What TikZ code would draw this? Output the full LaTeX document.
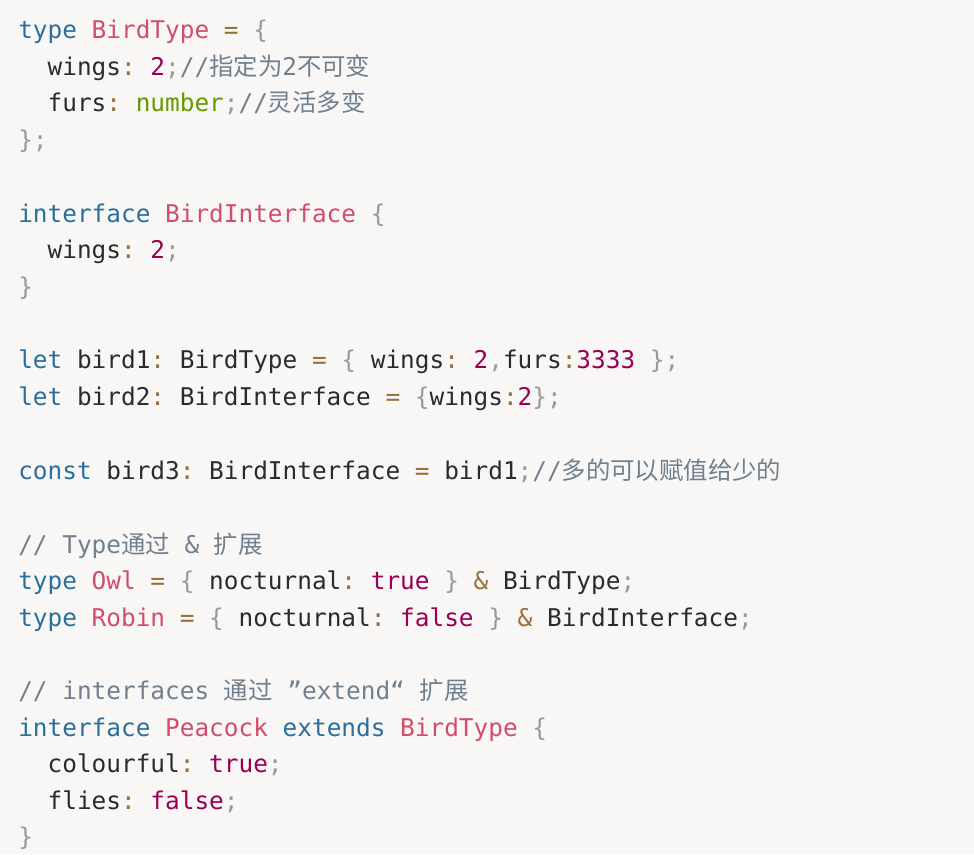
\documentclass[tikz,border=0pt]{standalone}
\usepackage{fontspec}
\setmonofont{DejaVu Sans Mono}
\newfontfamily\cjk{Noto Sans CJK SC}
\definecolor{bgcol}{HTML}{F8F7F5}
\definecolor{kwcol}{HTML}{2A6F9E}
\definecolor{cncol}{HTML}{D14D6B}
\definecolor{opcol}{HTML}{9A6E3A}
\definecolor{pucol}{HTML}{999999}
\definecolor{nmcol}{HTML}{990055}
\definecolor{bicol}{HTML}{669900}
\definecolor{cmcol}{HTML}{708090}
\definecolor{txcol}{HTML}{2B2B2B}
\newcommand{\kw}[1]{\textcolor{kwcol}{#1}}
\newcommand{\cn}[1]{\textcolor{cncol}{#1}}
\newcommand{\op}[1]{\textcolor{opcol}{#1}}
\newcommand{\pu}[1]{\textcolor{pucol}{#1}}
\newcommand{\nm}[1]{\textcolor{nmcol}{#1}}
\newcommand{\bi}[1]{\textcolor{bicol}{#1}}
\newcommand{\cm}[1]{\textcolor{cmcol}{#1}}
\newcommand{\zh}[1]{{\cjk #1}}
\newcommand{\ind}{\phantom{xx}}
\begin{document}
\begin{tikzpicture}[x=0.75pt,y=-0.75pt,
  code/.style={anchor=base west,inner sep=0pt,text=txcol,
    font=\ttfamily\fontsize{18.3pt}{20pt}\selectfont}]
  \fill[bgcol] (0,0) rectangle (974,854);
  \useasboundingbox (0,0) rectangle (974,854);

  \node[code] (l1) at (18,38) {\kw{type} \cn{BirdType} \op{=} \pu{\{}};
  \node[code] (l2) at (18,75) {\ind wings\op{:} \nm{2}\pu{;}\cm{//\zh{指定为}2\zh{不可变}}};
  \node[code] (l3) at (18,111) {\ind furs\op{:} \bi{number}\pu{;}\cm{//\zh{灵活多变}}};
  \node[code] (l4) at (18,148) {\pu{\};}};

  \node[code] (l5) at (18,222) {\kw{interface} \cn{BirdInterface} \pu{\{}};
  \node[code] (l6) at (18,258) {\ind wings\op{:} \nm{2}\pu{;}};
  \node[code] (l7) at (18,295) {\pu{\}}};

  \node[code] (l8) at (18,368) {\kw{let} bird1\op{:} BirdType \op{=} \pu{\{} wings\op{:} \nm{2}\pu{,}furs\op{:}\nm{3333} \pu{\};}};
  \node[code] (l9) at (18,405) {\kw{let} bird2\op{:} BirdInterface \op{=} \pu{\{}wings\op{:}\nm{2}\pu{\};}};

  \node[code] (l10) at (18,479) {\kw{const} bird3\op{:} BirdInterface \op{=} bird1\pu{;}\cm{//\zh{多的可以赋值给少的}}};

  \node[code] (l11) at (18,553) {\cm{// Type\zh{通过} \& \zh{扩展}}};
  \node[code] (l12) at (18,589) {\kw{type} \cn{Owl} \op{=} \pu{\{} nocturnal\op{:} \nm{true} \pu{\}} \op{\&} BirdType\pu{;}};
  \node[code] (l13) at (18,626) {\kw{type} \cn{Robin} \op{=} \pu{\{} nocturnal\op{:} \nm{false} \pu{\}} \op{\&} BirdInterface\pu{;}};

  \node[code] (l14) at (18,699) {\cm{// interfaces \zh{通过} ”extend“ \zh{扩展}}};
  \node[code] (l15) at (18,736) {\kw{interface} \cn{Peacock} \kw{extends} \cn{BirdType} \pu{\{}};
  \node[code] (l16) at (18,772) {\ind colourful\op{:} \nm{true}\pu{;}};
  \node[code] (l17) at (18,809) {\ind flies\op{:} \nm{false}\pu{;}};
  \node[code] (l18) at (18,845) {\pu{\}}};
\end{tikzpicture}
\end{document}
